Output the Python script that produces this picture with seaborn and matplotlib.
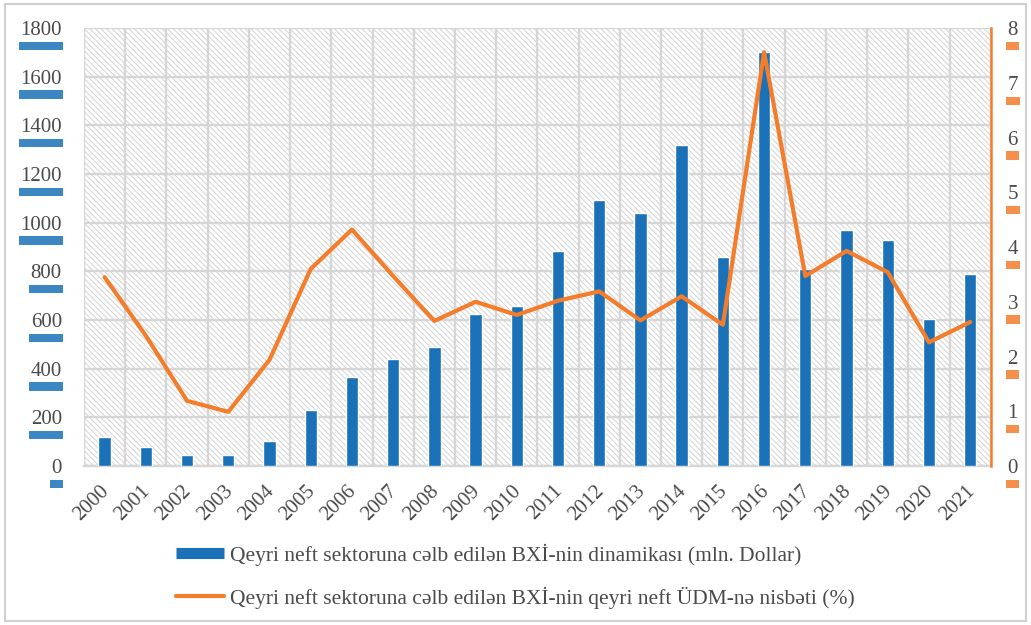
import matplotlib
matplotlib.use("Agg")
import matplotlib.pyplot as plt
import matplotlib.patheffects as pe
import matplotlib.transforms as mtransforms
from matplotlib.patches import Rectangle
from matplotlib.lines import Line2D
import numpy as np
import pandas as pd
import seaborn as sns

years = [str(y) for y in range(2000, 2022)]
fdi = [118, 78, 45, 45, 103, 229, 364, 438, 490, 624, 658, 885,
       1092, 1040, 1318, 859, 1702, 810, 970, 929, 604, 789]
ratio = [3.45, 2.38, 1.19, 0.99, 1.94, 3.6, 4.32, 3.47, 2.65, 3.0, 2.76, 3.02,
         3.19, 2.66, 3.1, 2.58, 7.56, 3.47, 3.93, 3.54, 2.26, 2.63]
bar_label = "Qeyri neft sektoruna cəlb edilən BXİ-nin dinamikası (mln. Dollar)"
line_label = "Qeyri neft sektoruna cəlb edilən BXİ-nin qeyri neft ÜDM-nə nisbəti (%)"

blue = "#1a71b8"
orange = "#f47d2c"
grid_c = "#d6d6d6"
text_c = "#4a4a4a"

sns.set_style("white")
plt.rcParams["font.family"] = ["Liberation Serif", "DejaVu Serif"]
plt.rcParams["hatch.linewidth"] = 0.7

df = pd.DataFrame({"year": years, "fdi": fdi, "ratio": ratio})
n = len(years)

fig = plt.figure(figsize=(10.31, 6.25), dpi=100)
ax = fig.add_axes([0.0815, 0.2544, 0.8795, 0.7006])

sns.barplot(data=df, x="year", y="fdi", color=blue, width=0.3, saturation=1,
            ax=ax, zorder=3)

# hatched plot background
ax.add_patch(Rectangle((0, 0), 1, 1, transform=ax.transAxes, facecolor="white",
                       edgecolor="#d3d3d3", lw=0, hatch="\\\\\\\\\\\\", zorder=0.5))

ax.set_ylim(0, 1800)
ax.set_xlim(-0.5, n - 0.5)
ax.set_yticks(range(0, 1801, 200))
ax.set_xlabel("")
ax.set_ylabel("")

ax.set_xticks(np.arange(-0.5, n, 1), minor=True)
ax.grid(True, which="minor", axis="x", color=grid_c, lw=1.7, zorder=1)
ax.grid(True, which="major", axis="y", color=grid_c, lw=1.7, zorder=1)
ax.set_axisbelow(True)
ax.tick_params(axis="x", which="major", length=0, labelsize=15, colors=text_c, pad=11)
ax.tick_params(axis="x", which="minor", length=5, color=grid_c, width=1.4)
ax.tick_params(axis="y", length=0, labelsize=15, colors=text_c, pad=16)
shift = mtransforms.ScaledTranslation(-5 / 100, 0, fig.dpi_scale_trans)
for lab in ax.get_xticklabels():
    lab.set_rotation(45)
    lab.set_ha("right")
    lab.set_rotation_mode("anchor")
    lab.set_transform(lab.get_transform() + shift)

for s in ["top", "left", "right"]:
    ax.spines[s].set_visible(False)
ax.spines["bottom"].set_color(grid_c)
ax.spines["bottom"].set_linewidth(1.7)

ax2 = ax.twinx()
sns.lineplot(x=np.arange(n), y=ratio, color=orange, lw=3, ax=ax2, zorder=4)
ax2.set_ylim(0, 8)
ax2.set_xlim(-0.5, n - 0.5)
ax2.set_yticks(range(0, 9))
ax2.tick_params(axis="y", length=0, labelsize=15, colors=text_c, pad=12)
for s in ["top", "left", "bottom"]:
    ax2.spines[s].set_visible(False)
ax2.spines["right"].set_color(orange)
ax2.spines["right"].set_linewidth(1.8)

# labels with coloured shadow underneath
for lab in ax.get_yticklabels():
    lab.set_bbox(dict(boxstyle="square,pad=0.08", fc="white", ec="none",
                      path_effects=[pe.withSimplePatchShadow(offset=(0, -6), shadow_rgbFace=blue, alpha=0.85)]))
for lab in ax2.get_yticklabels():
    lab.set_bbox(dict(boxstyle="square,pad=0.08", fc="white", ec="none",
                      path_effects=[pe.withSimplePatchShadow(offset=(0, -6), shadow_rgbFace=orange, alpha=0.85)]))

handles = [Line2D([0], [0], color=blue, lw=8, solid_capstyle="butt"),
           Line2D([0], [0], color=orange, lw=3)]
fig.legend(handles, [bar_label, line_label], loc="center", bbox_to_anchor=(0.5, 0.078),
           ncol=1, frameon=False, fontsize=15.5, handlelength=2.2, handletextpad=0.3,
           labelspacing=0.95, labelcolor=text_c)

fig.add_artist(Rectangle((0.005, 0.006), 0.99, 0.987, transform=fig.transFigure,
                         fill=False, edgecolor="#d0d0d0", lw=1.5))

fig.savefig("out.png", dpi=100)
